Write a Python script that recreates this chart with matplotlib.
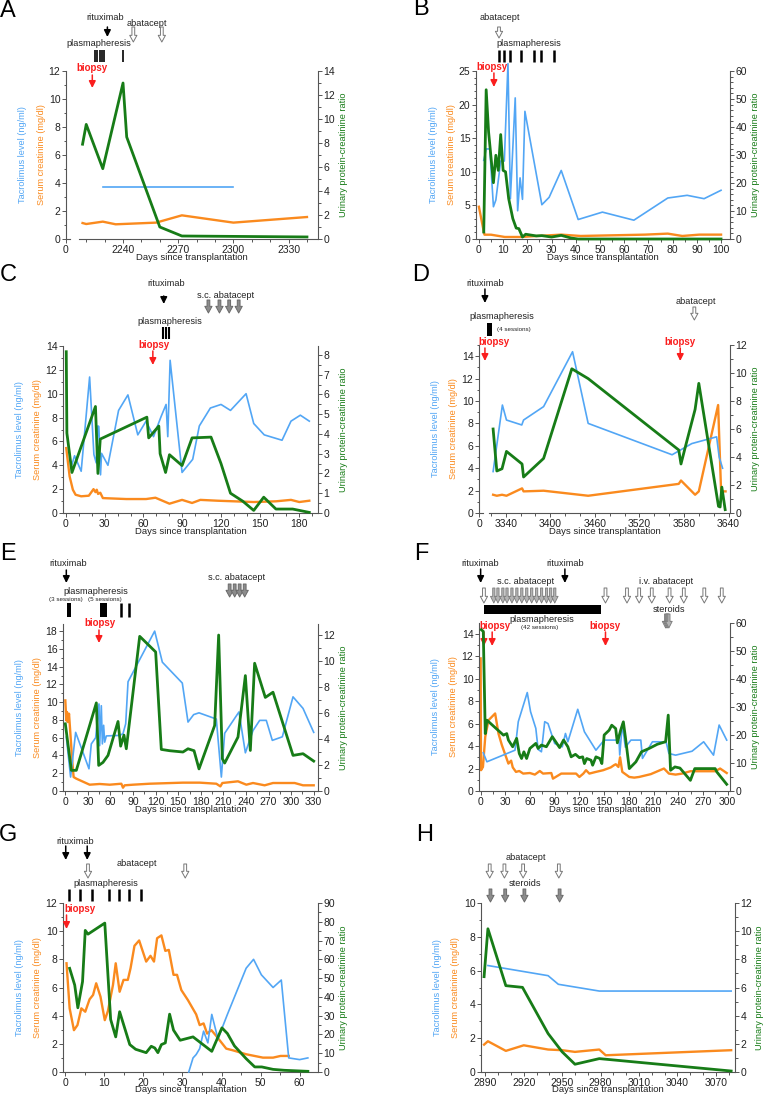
import numpy as np
import matplotlib.pyplot as plt
import matplotlib.transforms as mtransforms
from matplotlib.patches import Rectangle
from matplotlib.ticker import MultipleLocator, FixedLocator

plt.rcParams['font.family'] = ['Liberation Sans', 'DejaVu Sans']

W, H = 765, 1095
BLUE = '#52a6f5'
ORANGE = '#fa8a1e'
GREEN = '#177c17'
RED = '#fa1e1e'
SPINE = '#555555'
TXT = '#222222'

# ---------------- panel A
a_tac_day = [2229, 2300]
a_tac = [3.7, 3.7]
a_cre_day = [2218, 2220, 2229, 2236, 2258, 2272, 2300, 2340]
a_cre = [1.14, 1.07, 1.24, 1.05, 1.17, 1.69, 1.17, 1.57]
a_upcr_day = [2218, 2220, 2229, 2240, 2242, 2260, 2272, 2340]
a_upcr = [7.9, 9.55, 5.86, 13.0, 8.5, 1.0, 0.25, 0.17]
a_ritux = [2231.5]
a_abata = [2245.6, 2261.1]
a_plasma = [2224.7, 2226, 2227.3, 2228.5, 2229.7, 2240]
a_biopsy = [2223.3]

# ---------------- panel B
b_tac_day = [2, 3, 4.5, 6, 7, 9, 10.5, 12, 13, 15, 16, 17, 18, 19, 26, 29, 34, 41, 51, 64, 78, 86, 93, 100]
b_tac = [11.7, 13.4, 13.4, 4.8, 5.8, 11.6, 11.6, 26.1, 6.0, 21.0, 4.2, 9.1, 5.9, 19.0, 5.1, 6.2, 10.2, 2.9,
         4.0, 2.8, 6.1, 6.5, 6.0, 7.25]
b_cre_day = [0, 1.9, 2.3, 5, 10.7, 17.6, 21.8, 34, 42, 68.6, 78, 84, 91, 100]
b_cre = [4.8, 1.3, 0.64, 0.64, 0.3, 0.3, 0.4, 0.65, 0.45, 0.65, 0.8, 0.45, 0.65, 0.65]
b_upcr_day = [2, 3, 4, 6, 7, 8, 9, 10, 11, 12.3, 14, 15.4, 16.5, 18, 19.3, 23.7, 26, 30, 34, 38, 41, 100]
b_upcr = [2.5, 53.3, 38.2, 20.1, 29.9, 24.5, 37.3, 24.5, 24, 14.4, 7.3, 3.9, 3.7, 0.7, 1.7, 1.1, 1.2, 0.7,
          1.3, 0.36, 0, 0]
b_abata = [8.3]
b_plasma = [8.3, 10.5, 12.8, 17.4, 22.9, 25.6, 31.0]
b_biopsy = [6.2]

# ---------------- panel C
c_tac_day = [4.6, 6.9, 12, 18.5, 21.8, 23.6, 24.9, 25.6, 26.9, 27.7, 32.6, 40.8, 48, 55.6, 62, 67.7, 73.6,
             77.4, 78.7, 80.5, 89.7, 97.9, 103, 111.5, 119.7, 127, 139, 144.9, 153, 166.7, 173.6, 180.8, 187.7]
c_tac = [3.96, 4.8, 3.5, 11.4, 4.9, 4.2, 7.3, 7.25, 3.2, 5.0, 4.0, 8.6, 9.9, 6.55, 7.7, 6.4, 8.1, 9.1, 6.4,
         12.8, 3.4, 4.5, 7.3, 8.8, 9.1, 8.6, 10.0, 7.5, 6.55, 6.1, 7.7, 8.2, 7.7]
c_cre_day = [0.5, 3.1, 5.6, 7.7, 12, 17.9, 21.5, 23, 24, 25, 26.7, 28.7, 46.7, 62, 69.2, 80, 89.7, 97.4,
             103.8, 117, 144.9, 162, 173.6, 180, 187.7]
c_cre = [5.44, 3.07, 1.95, 1.53, 1.4, 1.45, 2.0, 1.75, 1.95, 1.6, 1.7, 1.25, 1.17, 1.17, 1.28, 0.78, 1.1,
         0.84, 1.1, 1.03, 0.92, 0.98, 1.1, 0.92, 1.03]
c_upcr_day = [0.5, 1, 4.9, 23, 24.9, 26.7, 62.6, 64, 71.8, 72.8, 77, 80, 89.7, 97.4, 112, 119.7, 127, 136.4,
              144.9, 152.6, 162, 174.9, 187.7]
c_upcr = [8.16, 4.04, 2.05, 5.39, 2.0, 3.74, 4.85, 3.8, 4.4, 3.0, 2.05, 2.95, 2.4, 3.8, 3.84, 2.5, 1.0, 0.6,
          0.13, 0.8, 0.2, 0.2, 0.03]
c_ritux = [75.6]
c_abata = [110, 118.5, 126, 133.3]
c_plasma = [74.9, 77.4, 80]
c_biopsy = [67.2]

# ---------------- panel D
d_tac_day = [3323, 3335.5, 3341, 3361.6, 3364, 3391, 3430, 3451, 3564, 3590.6, 3624, 3627.4, 3632]
d_tac = [3.7, 9.64, 8.3, 7.86, 8.3, 9.5, 14.4, 8.0, 5.2, 6.2, 6.8, 5.0, 4.0]
d_cre_day = [3323, 3328, 3335, 3341, 3362, 3364, 3391, 3451, 3573, 3576, 3595, 3600, 3626, 3630, 3636]
d_cre = [1.63, 1.54, 1.63, 1.54, 2.2, 1.93, 1.99, 1.54, 2.6, 2.9, 1.63, 1.93, 9.64, 1.93, 1.93]
d_upcr_day = [3323, 3328, 3335, 3341, 3362, 3364, 3391, 3429, 3451, 3573, 3576, 3582, 3595, 3600, 3626.5,
              3628.7, 3631, 3635.5]
d_upcr = [6.0, 3.0, 3.16, 4.4, 3.5, 2.57, 3.9, 10.3, 9.6, 4.5, 3.5, 4.75, 7.4, 9.26, 0.48, 0.43, 1.85, 0.24]
d_ritux = [3312]
d_plasma = (3314.4, 3321.1)
d_biopsy = [3312, 3575]
d_abata = [3594]

# ---------------- panel E
e_tac_day = [1.3, 7, 13.7, 31.4, 34.5, 40.3, 44.7, 45.6, 47.8, 49.2, 50.9, 52.3, 54.5, 72.2, 76.6, 80.2, 83.3,
             118.7, 128.9, 155.4, 163, 170.5, 177.6, 200.6, 207.3, 211.7, 230.7, 239.2, 249.3, 258.2, 267, 275,
             288.3, 302.5, 315.8, 330]
e_tac = [6.07, 1.57, 6.6, 2.5, 5.3, 6.0, 9.8, 5.1, 9.6, 5.3, 7.4, 5.5, 6.2, 6.26, 6.45, 7.57, 12.3,
         18.0, 14.5, 12.15, 7.76, 8.6, 8.8, 8.1, 1.57, 6.5, 8.9, 4.3, 6.8, 7.95, 7.95, 5.7, 6.1, 10.6, 9.3, 6.6]
e_cre_day = [0, 1.3, 2.2, 3.5, 4.9, 6.6, 9.3, 11, 14.6, 32.3, 45.6, 59, 74.4, 76.6, 78.8, 89.9, 112, 156,
             178.5, 200.6, 206, 208.6, 229.4, 240.5, 249.3, 264.8, 275.9, 304.7, 315.8, 330]
e_cre = [10.2, 7.95, 8.9, 7.76, 8.7, 6.6, 3.26, 1.57, 1.39, 0.71, 0.79, 0.71, 0.82, 0.37, 0.64, 0.71, 0.82,
         0.94, 0.94, 0.82, 0.52, 0.9, 1.09, 0.71, 0.9, 0.64, 0.9, 0.9, 0.64, 0.64]
e_upcr_day = [0, 8, 14.6, 41.2, 44.3, 50, 56.7, 70, 73.5, 77.9, 81, 98.8, 120, 127.5, 138.6, 156.3, 163, 171,
              177.6, 198.4, 203.7, 208.6, 211.7, 229.4, 239.2, 245.8, 251.5, 265.7, 275.9, 302.5, 315.8, 330]
e_upcr = [5.17, 1.59, 1.59, 6.78, 1.97, 2.2, 2.74, 5.35, 3.45, 4.3, 3.25, 11.9, 10.7, 3.2, 3.1, 3.0, 3.25, 3.1,
          1.7, 5.04, 12.0, 2.48, 2.15, 4.15, 8.88, 3.12, 9.83, 7.2, 7.6, 2.74, 2.87, 2.3]
e_ritux = [1.3]
e_plasma_blocks = [(2.2, 8), (45.6, 55.4)]
e_plasma = [74.4, 84.1]
e_biopsy = [44.7]
e_abata = [218.3, 225, 231.6, 238.3]

# ---------------- panel F
f_tac_day = [3.2, 7.6, 41.7, 45.7, 56.6, 60.6, 67, 69.8, 73.8, 77.8, 81.8, 89.9, 99.1, 103, 105.9, 117.9, 126,
             140, 150, 168, 168.9, 172, 175.7, 182.5, 194.5, 196.5, 208.6, 216.6, 225.4, 228.6, 236.7, 256.7,
             270.8, 282.8, 289.6, 298.8]
f_tac = [3.4, 2.6, 3.63, 6.17, 8.76, 7.06, 5.57, 3.7, 3.49, 6.17, 6.0, 4.23, 3.93, 5.12, 4.38, 7.27, 5.27,
         3.63, 4.53, 4.53, 3.2, 5.96, 3.9, 4.53, 4.53, 2.9, 4.38, 4.38, 4.32, 3.34, 3.19, 3.54, 4.38, 3.19,
         5.87, 4.53]
f_cre_day = [0, 0.4, 2.8, 5.6, 9.6, 17.6, 21.7, 25.7, 33.7, 37, 39, 42.9, 46.9, 51.7, 59.8, 65.8, 71.8, 75.8,
             85.8, 87.8, 97.9, 109.9, 115.9, 119.9, 124.7, 128, 132, 140, 148.8, 158, 162, 164.1, 167.3, 169.3,
             172, 180.5, 186.5, 192.5, 206.6, 222.6, 228.6, 236.7, 244.7, 254.7, 268.8, 284.8, 290.8, 298.8]
f_cre = [11.8, 1.85, 2.14, 4.83, 6.3, 6.9, 5.1, 4.1, 2.44, 2.7, 2.1, 1.7, 1.78, 1.55, 1.6, 1.46, 1.78, 1.55,
         1.6, 1.1, 1.55, 1.55, 1.55, 1.25, 1.55, 1.85, 1.55, 1.7, 1.85, 2.1, 2.3, 2.38, 2.14, 3.0, 1.7, 1.25,
         1.19, 1.25, 1.5, 2.0, 1.55, 1.46, 1.55, 1.76, 1.76, 1.76, 2.0, 1.6]
f_upcr_day = [0.8, 3.2, 5.6, 7.6, 27.7, 31.7, 33.7, 38.9, 43.7, 46.9, 49.7, 52.5, 55.8, 59.8, 67, 69.8, 73.8,
              79.8, 87, 95.9, 100.7, 105.9, 109.9, 115.1, 119.9, 123.9, 126, 128.8, 134, 136, 140, 144.8, 147.2,
              150, 156, 159.2, 164, 166, 170, 173.3, 175.7, 180.5, 188.5, 195.3, 204.6, 214.6, 224.6, 227.8,
              230.6, 235.9, 242, 254.7, 260, 284.8, 286.8, 298.8]
f_upcr = [57.6, 57, 20.5, 25.3, 19.95, 20.5, 18.2, 15.8, 18.8, 13.4, 11.6, 14.0, 11.6, 15.2, 17.0, 15.2, 16.4,
          15.8, 19.4, 15.5, 18.2, 15.8, 12.2, 13.1, 11.9, 12.2, 9.8, 11.6, 11.0, 9.2, 12.2, 11.6, 9.8, 20.0,
          21.7, 23.5, 22.3, 17.2, 21.7, 24.7, 19.4, 8.0, 10.4, 14.0, 15.2, 16.7, 17.6, 27.1, 7.4, 8.6, 8.2,
          3.8, 8.0, 8.0, 6.8, 2.4]
f_ritux = [0, 102.3]
f_abata_first = [4]
f_abata_sc = [16, 21, 27, 32, 38, 44, 50, 56, 62, 68, 74, 80, 85, 90]
f_abata_iv = [151.6, 177.7, 192.5, 207.8, 229.4, 246.7, 271.6, 292.8]
f_plasma = (4, 146.4)
f_steroids = [224.6, 226, 227.3, 228.6]
f_biopsy = [4, 14, 151.6]

# ---------------- panel G
g_tac_day = [31.6, 32.7, 33.5, 34.4, 35.4, 36.5, 37.5, 39.1, 40.1, 41.5, 46.3, 48.2, 50.2, 53.2, 55.3, 57.2,
             60, 62.1]
g_tac = [0, 1.0, 1.24, 1.66, 2.9, 2.07, 4.09, 2.33, 3.09, 4.09, 7.37, 8.0, 6.9, 6.0, 6.53, 1.0, 0.88, 1.0]
g_cre_day = [0.3, 1.1, 2.2, 3.1, 4.1, 5.1, 6.2, 7.1, 7.9, 9.0, 10.1, 10.9, 12.2, 12.9, 13.9, 14.9, 16, 16.7,
             17.7, 18.9, 19.7, 20.7, 21.8, 22.7, 23.5, 24.6, 25.6, 26.5, 27.7, 28.6, 29.7, 31.4, 33.5, 34.4,
             35.4, 36.3, 37.4, 38.5, 41.2, 42.9, 46.3, 50.6, 53.2, 55.1, 57.2]
g_cre = [7.72, 4.52, 2.97, 3.33, 4.52, 4.28, 5.16, 5.47, 6.3, 5.35, 3.68, 4.33, 6.18, 7.72, 5.7, 6.54, 6.54,
         7.37, 8.96, 9.34, 8.67, 7.84, 8.25, 7.84, 9.5, 9.7, 8.6, 8.67, 6.9, 6.9, 5.82, 5.1, 4.09, 3.33, 3.45,
         2.73, 2.97, 2.61, 1.66, 1.54, 1.26, 1.02, 1.02, 1.14, 1.14]
g_upcr_day = [1.1, 2.4, 3.2, 4.4, 5.1, 5.8, 10.1, 11.6, 12.9, 13.9, 16.5, 18, 20.7, 22, 22.9, 23.7, 24.6, 25.6,
              26.7, 27.7, 29.4, 32.7, 37.5, 40.1, 41.5, 43.3, 46.3, 48.5, 50.3, 53.2, 56.1, 62.1]
g_upcr = [55.2, 46.3, 34.2, 48.1, 75.4, 73.4, 79.3, 28.0, 18.7, 32.1, 14.6, 12.1, 10.3, 13.7, 12.8, 10.3, 14.6,
          15.5, 30.8, 22.3, 16.9, 18.7, 11.0, 23.5, 20.5, 13.9, 7.1, 2.7, 2.7, 1.4, 0.9, 0.36]
g_ritux = [0.1, 5.6]
g_abata = [5.8, 30.7]
g_plasma = [0.9, 3.8, 6.7, 11.3, 13.7, 16.2, 19.5]
g_biopsy = [0.3]

# ---------------- panel H
h_tac_day = [2892, 2939, 2947, 2979, 3082]
h_tac = [6.3, 5.7, 5.19, 4.79, 4.79]
h_cre_day = [2889, 2892, 2906, 2920, 2939, 2950, 2960, 2979, 2984, 3082]
h_cre = [1.62, 1.82, 1.25, 1.58, 1.33, 1.29, 1.19, 1.33, 0.99, 1.29]
h_upcr_day = [2889, 2892, 2906, 2919, 2939, 2950, 2960, 2979, 3082]
h_upcr = [6.77, 10.17, 6.13, 6.01, 2.73, 1.43, 0.55, 0.95, 0.07]
h_abata = [2893.4, 2904.9, 2919.5, 2947.4]
h_steroids = [2894, 2905.5, 2920.5, 2948]


fig = plt.figure(figsize=(W / 100, H / 100), dpi=100)


def Y(p):
    return 1 - p / H


def off(ax, dx, dy):
    return ax.transAxes + mtransforms.ScaledTranslation(dx / 100, dy / 100, fig.dpi_scale_trans)


def panel(box, letter, lpos, xlim, xt, xtl, xminor, ylim, ystep, ylim2, ystep2, tac, cre, upcr,
          ymin=1, ymin2=None, xbreak=None):
    L, R, T, B = box
    ax = fig.add_axes([L / W, 1 - B / H, (R - L) / W, (B - T) / H])
    ax2 = ax.twinx()
    ax.plot(*cre, color=ORANGE, lw=1.7, clip_on=False, zorder=2)
    ax.plot(*tac, color=BLUE, lw=1.2, clip_on=False, zorder=3)
    ax2.plot(*upcr, color=GREEN, lw=2.0, clip_on=False)
    ax.set_xlim(*xlim)
    ax.set_ylim(*ylim)
    ax2.set_ylim(*ylim2)
    ax.set_xticks(xt)
    ax.set_xticklabels(xtl)
    ax.xaxis.set_minor_locator(FixedLocator(xminor))
    ax.yaxis.set_major_locator(MultipleLocator(ystep))
    ax.yaxis.set_minor_locator(MultipleLocator(ymin))
    ax2.yaxis.set_major_locator(MultipleLocator(ystep2))
    ax2.yaxis.set_minor_locator(MultipleLocator(ymin2 if ymin2 else ystep2 / 2))
    for a in (ax, ax2):
        for s in a.spines.values():
            s.set_color(SPINE)
            s.set_linewidth(0.8)
        a.tick_params(which='both', direction='out', color=SPINE, width=0.7, labelsize=7.5,
                      labelcolor=TXT, pad=1)
        a.tick_params(which='major', length=3)
        a.tick_params(which='minor', length=1.8)
    ax.spines['top'].set_visible(False)
    ax.spines['right'].set_visible(False)
    for s in ('top', 'left', 'bottom'):
        ax2.spines[s].set_visible(False)
    if xbreak is not None:
        ax.spines['bottom'].set_bounds(xbreak, xlim[1])
        ax.plot([xlim[0], xlim[0] + (xlim[1] - xlim[0]) * 0.015], [0, 0], color=SPINE, lw=0.8,
                clip_on=False)
    ax.text(0, 0.5, 'Tacrolimus level (ng/ml)', transform=off(ax, -43, 0), rotation=90,
            color=BLUE, fontsize=6.6, ha='center', va='center')
    ax.text(0, 0.5, 'Serum creatinine (mg/dl)', transform=off(ax, -25, 0), rotation=90,
            color=ORANGE, fontsize=6.6, ha='center', va='center')
    ax.text(1, 0.5, 'Urinary protein-creatinine ratio', transform=off(ax, 25, 0), rotation=90,
            color=GREEN, fontsize=6.6, ha='center', va='center')
    ax.text(0.5, 0, 'Days since transplantation', transform=off(ax, 0, -18), color=TXT,
            fontsize=6.8, ha='center', va='center')
    fig.text(lpos[0] / W, Y(lpos[1]), letter, fontsize=17, ha='center', va='center')
    return ax


def bt(ax):
    return mtransforms.blended_transform_factory(ax.transData, fig.transFigure)


STYLES = {
    'black': dict(arrowstyle='-|>,head_length=0.5,head_width=0.25', color='black', lw=1.1,
                  mutation_scale=8),
    'red': dict(arrowstyle='-|>,head_length=0.5,head_width=0.25', color=RED, lw=1.1,
                mutation_scale=8),
    'hollow': dict(arrowstyle='simple,head_length=0.6,head_width=0.65,tail_width=0.25', fc='white',
                   ec='#777777', lw=0.7, mutation_scale=8),
    'gray': dict(arrowstyle='simple,head_length=0.6,head_width=0.65,tail_width=0.25', fc='#8c8c8c',
                 ec='#6a6a6a', lw=0.7, mutation_scale=8),
    'light': dict(arrowstyle='simple,head_length=0.6,head_width=0.6,tail_width=0.2', fc='#b4b4b4',
                  ec='#7a7a7a', lw=0.6, mutation_scale=8),
}


def arrows(ax, xs, y0, y1, kind):
    for x in xs:
        props = dict(STYLES[kind], shrinkA=0, shrinkB=0)
        ax.annotate('', xy=(x, Y(y1)), xytext=(x, Y(y0)), xycoords=bt(ax), textcoords=bt(ax),
                    arrowprops=props, annotation_clip=False)


def bars(ax, xs, y0, y1, lw=1.8):
    ax.vlines(xs, Y(y1), Y(y0), transform=bt(ax), colors='black', lw=lw, clip_on=False)


def block(ax, span, y0, y1):
    ax.add_patch(Rectangle((span[0], Y(y1)), span[1] - span[0], Y(y0) - Y(y1), transform=bt(ax),
                           facecolor='black', edgecolor='none', clip_on=False))


def note(ax, x, y, s, size=6.6, **kw):
    kw.setdefault('ha', 'center')
    ax.text(x, Y(y), s, transform=bt(ax), va='center', fontsize=size, color=TXT, **kw)


def biopsy(ax, x, y, xs, y0, y1):
    ax.text(x, Y(y), 'biopsy', transform=bt(ax), ha='center', va='center', fontsize=7,
            fontweight='bold', color=RED)
    arrows(ax, xs, y0, y1, 'red')


# ---- A
ax = panel((66, 318, 71, 239), 'A', (8, 11), (2209, 2346), [2209, 2240, 2270, 2300, 2330],
           ['0', '2240', '2270', '2300', '2330'], [2220, 2230, 2250, 2260, 2280, 2290, 2310, 2320, 2340],
           (0, 12), 2, (0, 14), 2, (a_tac_day, a_tac), (a_cre_day, a_cre), (a_upcr_day, a_upcr),
           ymin2=1, xbreak=2216)
note(ax, 2230.5, 17, 'rituximab')
arrows(ax, a_ritux, 27, 37, 'black')
note(ax, 2253, 23, 'abatacept')
arrows(ax, a_abata, 27, 42, 'hollow')
note(ax, 2227, 43, 'plasmapheresis')
bars(ax, a_plasma, 50, 62, lw=1.2)
biopsy(ax, 2223.3, 68, a_biopsy, 75, 88)

# ---- B
ax = panel((476, 730, 71, 239), 'B', (421, 9), (-1.2, 103.7), list(range(0, 101, 10)),
           [str(v) for v in range(0, 101, 10)], list(range(5, 101, 10)),
           (0, 25), 5, (0, 60), 10, (b_tac_day, b_tac), (b_cre_day, b_cre), (b_upcr_day, b_upcr),
           ymin=1, ymin2=2)
note(ax, 8.7, 17, 'abatacept')
arrows(ax, b_abata, 27, 38, 'hollow')
note(ax, 20.4, 43, 'plasmapheresis')
bars(ax, b_plasma, 50, 62)
biopsy(ax, 5.6, 67, b_biopsy, 73, 87)

# ---- C
ax = panel((63, 318, 346, 513), 'C', (8, 275), (-2, 194.4), list(range(0, 181, 30)),
           [str(v) for v in range(0, 181, 30)], list(range(10, 191, 10)),
           (0, 14), 2, (0, 8.45), 1, (c_tac_day, c_tac), (c_cre_day, c_cre), (c_upcr_day, c_upcr),
           ymin2=0.5)
note(ax, 77.4, 284, 'rituximab')
arrows(ax, c_ritux, 296, 304, 'black')
note(ax, 123, 295, 's.c. abatacept')
arrows(ax, c_abata, 300, 313, 'gray')
note(ax, 80.5, 321, 'plasmapheresis')
bars(ax, c_plasma, 327, 339, lw=1.5)
biopsy(ax, 67.7, 345, c_biopsy, 351, 365)

# ---- D
ax = panel((479, 730, 345, 513), 'D', (421, 275), (3304, 3642),
           [3304, 3340, 3400, 3460, 3520, 3580, 3640], ['0', '3340', '3400', '3460', '3520', '3580', '3640'],
           [3320, 3360, 3380, 3420, 3440, 3480, 3500, 3540, 3560, 3600, 3620],
           (0, 15), 2, (0, 12), 2, (d_tac_day, d_tac), (d_cre_day, d_cre), (d_upcr_day, d_upcr),
           ymin2=1, xbreak=3318)
note(ax, 3312.2, 283, 'rituximab')
arrows(ax, d_ritux, 289, 303, 'black')
note(ax, 3334.6, 316, 'plasmapheresis')
block(ax, d_plasma, 323, 336)
note(ax, 3327.9, 329, '(4 sessions)', size=4.5, ha='left')
biopsy(ax, 3324.7, 342, d_biopsy[:1], 348, 361)
biopsy(ax, 3574, 342, d_biopsy[1:], 348, 361)
note(ax, 3596.4, 301, 'abatacept')
arrows(ax, d_abata, 307, 320, 'hollow')

# ---- E
ax = panel((63, 318, 624, 791), 'E', (8, 554), (-3.1, 335.7), list(range(0, 331, 30)),
           [str(v) for v in range(0, 331, 30)], list(range(15, 331, 30)),
           (0, 18.8), 2, (0, 12.85), 2, (e_tac_day, e_tac), (e_cre_day, e_cre), (e_upcr_day, e_upcr),
           ymin2=1)
note(ax, 3.5, 564, 'rituximab')
arrows(ax, e_ritux, 570, 583, 'black')
note(ax, 40.3, 591, 'plasmapheresis')
note(ax, 1.3, 600, '(3 sessions)', size=4.5)
note(ax, 52.3, 600, '(5 sessions)', size=4.5)
for span in e_plasma_blocks:
    block(ax, span, 603, 617)
bars(ax, e_plasma, 603, 617)
biopsy(ax, 45.6, 623, e_biopsy, 630, 643)
note(ax, 228, 578, 's.c. abatacept')
arrows(ax, e_abata, 584, 597, 'gray')

# ---- F
ax = panel((479, 730, 623, 791), 'F', (421, 554), (-2, 302.8), list(range(0, 301, 30)),
           [str(v) for v in range(0, 301, 30)], list(range(15, 301, 30)),
           (0, 14.95), 2, (0, 60), 10, (f_tac_day, f_tac), (f_cre_day, f_cre), (f_upcr_day, f_upcr),
           ymin2=5)
note(ax, 0, 564, 'rituximab')
note(ax, 102.3, 564, 'rituximab')
arrows(ax, f_ritux, 569, 583, 'black')
note(ax, 54.2, 582, 's.c. abatacept')
arrows(ax, f_abata_first, 588, 603, 'hollow')
arrows(ax, f_abata_sc, 588, 603, 'light')
note(ax, 225.4, 582, 'i.v. abatacept')
arrows(ax, f_abata_iv, 588, 603, 'hollow')
block(ax, f_plasma, 605, 614)
note(ax, 74.2, 620, 'plasmapheresis')
note(ax, 72.2, 628, '(42 sessions)', size=4.5)
note(ax, 228.6, 610, 'steroids')
arrows(ax, f_steroids, 614, 628, 'light')
biopsy(ax, 17.6, 626, f_biopsy[:2], 632, 646)
biopsy(ax, 150.4, 626, f_biopsy[2:], 632, 646)

# ---- G
ax = panel((63, 318, 903, 1072), 'G', (8, 835), (-0.6, 64.7), list(range(0, 61, 10)),
           [str(v) for v in range(0, 61, 10)], list(range(5, 64, 10)),
           (0, 12), 2, (0, 90), 10, (g_tac_day, g_tac), (g_cre_day, g_cre), (g_upcr_day, g_upcr),
           ymin2=5)
note(ax, 2.6, 841, 'rituximab')
arrows(ax, g_ritux, 846, 860, 'black')
note(ax, 18.2, 863, 'abatacept')
arrows(ax, g_abata, 864, 878, 'hollow')
note(ax, 10.3, 884, 'plasmapheresis')
bars(ax, g_plasma, 889, 901)
biopsy(ax, 3.7, 909, g_biopsy, 915, 929)

# ---- H
ax = panel((481, 735, 903, 1072), 'H', (425, 835), (2886.6, 3085), list(range(2890, 3071, 30)),
           [str(v) for v in range(2890, 3071, 30)], list(range(2900, 3085, 10)),
           (0, 10), 2, (0, 12), 2, (h_tac_day, h_tac), (h_cre_day, h_cre), (h_upcr_day, h_upcr),
           ymin2=1)
note(ax, 2921.3, 858, 'abatacept')
arrows(ax, h_abata, 864, 878, 'hollow')
note(ax, 2921.3, 884, 'steroids')
arrows(ax, h_steroids, 889, 902, 'gray')

fig.savefig('out.png', dpi=100)
